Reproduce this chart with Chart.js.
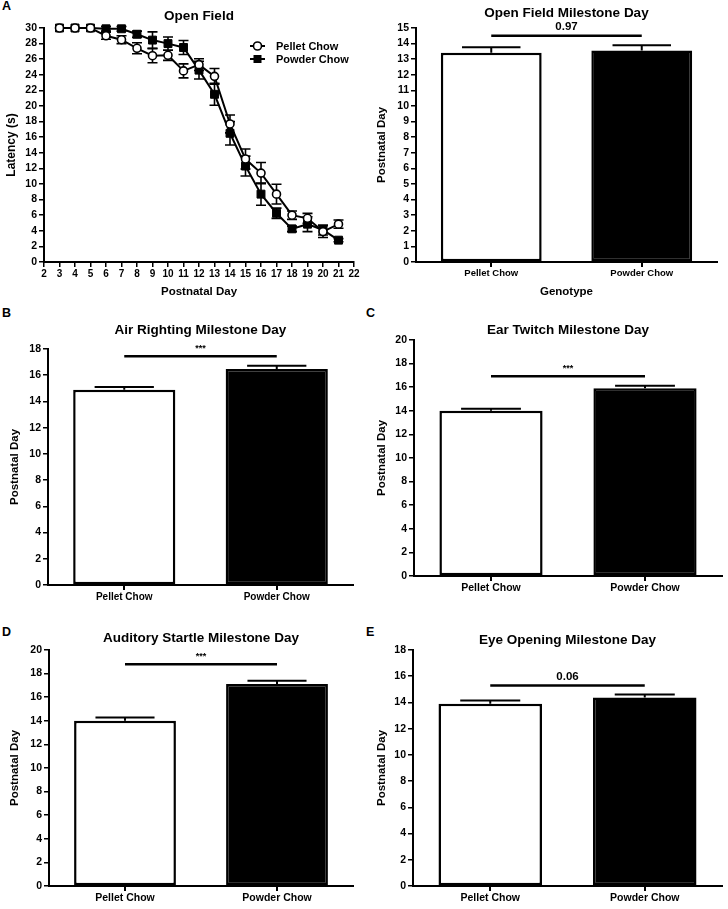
<!DOCTYPE html>
<html><head><meta charset="utf-8">
<script src="https://cdn.jsdelivr.net/npm/chart.js@4.4.0/dist/chart.umd.min.js"></script>
<style>
body{margin:0;background:#fff;width:728px;height:909px;position:relative;overflow:hidden;font-family:'Liberation Sans',Arial,sans-serif;}
.p{position:absolute;}
.lbl{position:absolute;font-weight:bold;font-size:12.5px;line-height:1;color:#000;}
</style></head><body>
<div class="lbl" style="left:2px;top:0px">A</div>
<div class="lbl" style="left:2px;top:306.5px">B</div>
<div class="lbl" style="left:366px;top:306.5px">C</div>
<div class="lbl" style="left:2px;top:625.5px">D</div>
<div class="lbl" style="left:366px;top:625.5px">E</div>
<canvas class="p" id="cA" width="364" height="305" style="left:0;top:0"></canvas>
<canvas class="p" id="cF" width="364" height="305" style="left:364px;top:0"></canvas>
<canvas class="p" id="cB" width="364" height="305" style="left:0;top:305px"></canvas>
<canvas class="p" id="cC" width="364" height="305" style="left:364px;top:305px"></canvas>
<canvas class="p" id="cD" width="364" height="299" style="left:0;top:610px"></canvas>
<canvas class="p" id="cE" width="364" height="299" style="left:364px;top:610px"></canvas>
<script>
// ---------- DATA ----------
const days = [3,4,5,6,7,8,9,10,11,12,13,14,15,16,17,18,19,20,21];
const pelletLatency    = [30,30,30,29.0,28.5,27.4,26.45,26.5,24.5,25.3,23.8,17.7,13.2,11.4,8.7,6.0,5.6,3.9,4.85];
const pelletLatencySEM = [0,0,0,0.45,0.5,0.7,0.9,0.65,0.9,0.75,1.0,1.15,1.28,1.35,1.26,0.53,0.64,0.75,0.53];
const powderLatency    = [30,30,30,29.9,29.9,29.2,28.45,28.0,27.5,24.6,21.5,16.5,12.3,8.7,6.25,4.25,4.85,4.1,2.8];
const powderLatencySEM = [0,0,0,0.3,0.3,0.4,1.05,0.85,0.9,1.13,1.4,1.5,1.28,1.43,0.66,0.35,0.96,0.64,0.2];
const seriesNames = ['Pellet Chow','Powder Chow'];

const groups = ['Pellet Chow','Powder Chow'];
const openFieldDay      = [13.42, 13.55];
const openFieldDaySEM   = [0.35, 0.35];
const airRightingDay    = [14.9, 16.47];
const airRightingDaySEM = [0.2, 0.26];
const earTwitchDay      = [14.0, 15.92];
const earTwitchDaySEM   = [0.18, 0.2];
const startleDay        = [14.0, 17.12];
const startleDaySEM     = [0.27, 0.28];
const eyeOpeningDay     = [13.9, 14.37];
const eyeOpeningDaySEM  = [0.24, 0.23];
const sigLabels = ['0.97','***','***','***','0.06'];
const sigLevels = [14.5, 17.44, 16.92, 18.8, 15.3];

// ---------- STYLE ----------
const FF = "'Liberation Sans', Arial, sans-serif";
Chart.defaults.font.family = FF;
Chart.defaults.color = '#000';
const bold = (s)=>({family:FF, weight:'bold', size:s, lineHeight:1.2});

function yAxis(min,max,step,title,width,titlePad,titleSize){
  return {
    min:min, max:max,
    ticks:{stepSize:step, color:'#000', font:bold(10.5), padding:2},
    grid:{drawOnChartArea:false, drawTicks:true, tickLength:5, color:'#000', lineWidth:1.5},
    border:{display:true, color:'#000', width:2},
    title:{display:true, text:title, color:'#000', font:bold(titleSize||11.5), padding:{top:titlePad,bottom:0}},
    afterFit(s){ s.width = width; }
  };
}

// ---------- LINE CHART PLUGIN ----------
const lineExtras = {
  id:'lineExtras',
  beforeDatasetsDraw(chart, args, opts){
    const {ctx, scales:{y}} = chart;
    ctx.save();
    ctx.strokeStyle = '#000'; ctx.lineWidth = 1.6;
    opts.sems.forEach((sem, di)=>{
      const meta = chart.getDatasetMeta(di);
      const vals = opts.vals[di];
      meta.data.forEach((pt, j)=>{
        if(!sem[j]) return;
        const yt = y.getPixelForValue(vals[j]+sem[j]);
        const yb = y.getPixelForValue(vals[j]-sem[j]);
        ctx.beginPath();
        ctx.moveTo(pt.x, yt); ctx.lineTo(pt.x, yb);
        ctx.moveTo(pt.x-5, yt); ctx.lineTo(pt.x+5, yt);
        ctx.moveTo(pt.x-5, yb); ctx.lineTo(pt.x+5, yb);
        ctx.stroke();
      });
    });
    ctx.restore();
  },
  afterDraw(chart, args, opts){
    const {ctx, chartArea} = chart;
    ctx.save();
    const x0 = chartArea.right - 104;
    chart.data.datasets.forEach((ds, i)=>{
      const yy = chartArea.top + 18 + i*13;
      ctx.strokeStyle = '#000'; ctx.lineWidth = 2;
      ctx.beginPath(); ctx.moveTo(x0, yy); ctx.lineTo(x0+15, yy); ctx.stroke();
      const cx = x0+7.5;
      if(ds.pointStyle === 'rect'){
        ctx.fillStyle = '#000'; ctx.fillRect(cx-4, yy-4, 8, 8);
      } else {
        ctx.fillStyle = '#fff'; ctx.lineWidth = 1.6;
        ctx.beginPath(); ctx.arc(cx, yy, 4, 0, Math.PI*2); ctx.fill(); ctx.stroke();
      }
      ctx.fillStyle = '#000';
      ctx.font = "bold 11px " + FF;
      ctx.textAlign = 'left'; ctx.textBaseline = 'middle';
      ctx.fillText(ds.label, x0+26, yy+0.5);
    });
    ctx.restore();
  }
};

new Chart(document.getElementById('cA'), {
  type:'line',
  data:{
    datasets:[
      {label:seriesNames[0], data:days.map((d,i)=>({x:d,y:pelletLatency[i]})),
       borderColor:'#000', borderWidth:2, pointStyle:'circle', pointRadius:4,
       pointBackgroundColor:'#fff', pointBorderColor:'#000', pointBorderWidth:1.6, tension:0, clip:false},
      {label:seriesNames[1], data:days.map((d,i)=>({x:d,y:powderLatency[i]})),
       borderColor:'#000', borderWidth:2, pointStyle:'rect', pointRadius:5.6,
       pointBackgroundColor:'#000', pointBorderColor:'#000', pointBorderWidth:1, tension:0, clip:false}
    ]
  },
  options:{
    responsive:false, animation:false, events:[],
    layout:{padding:{left:0,right:10,top:0,bottom:0}},
    plugins:{
      legend:{display:false}, tooltip:{enabled:false},
      title:{display:true, fullSize:false, text:'Open Field', color:'#000', font:bold(13.5), padding:{top:8.6,bottom:3.2}},
      lineExtras:{vals:[pelletLatency, powderLatency], sems:[pelletLatencySEM, powderLatencySEM]}
    },
    scales:{
      x:{type:'linear', min:2, max:22,
         ticks:{stepSize:1, color:'#000', font:bold(10), padding:1, maxRotation:0, autoSkip:false},
         grid:{drawOnChartArea:false, drawTicks:true, tickLength:5, color:'#000', lineWidth:1.5},
         border:{display:true, color:'#000', width:2},
         title:{display:true, text:'Postnatal Day', color:'#000', font:bold(11.5), padding:{top:0,bottom:6}},
         afterFit(s){ s.height = 43; }},
      y:yAxis(0,30,2,'Latency (s)',44,4.8,12)
    }
  },
  plugins:[lineExtras]
});

// ---------- BAR CHART PLUGIN ----------
const barExtras = {
  id:'barExtras',
  afterDatasetsDraw(chart, args, opts){
    const {ctx, scales:{y}} = chart;
    const meta = chart.getDatasetMeta(0);
    ctx.save();
    ctx.strokeStyle = '#000'; ctx.lineWidth = 2;
    meta.data.forEach((bar, i)=>{
      const v = opts.means[i], e = opts.sem[i];
      const y0 = y.getPixelForValue(v), y1 = y.getPixelForValue(v+e);
      const hw = bar.width*0.29;
      ctx.beginPath();
      ctx.moveTo(bar.x, y0); ctx.lineTo(bar.x, y1);
      ctx.moveTo(bar.x-hw, y1); ctx.lineTo(bar.x+hw, y1);
      ctx.stroke();
    });
    const ys = y.getPixelForValue(opts.sigY);
    ctx.lineWidth = 2.5;
    ctx.beginPath(); ctx.moveTo(meta.data[0].x, ys); ctx.lineTo(meta.data[1].x, ys); ctx.stroke();
    ctx.fillStyle = '#000';
    ctx.font = 'bold ' + (opts.label === '***' ? 9 : 11.5) + 'px ' + FF;
    ctx.textAlign = 'center'; ctx.textBaseline = 'middle';
    ctx.fillText(opts.label, (meta.data[0].x + meta.data[1].x)/2, ys - (opts.label === '***' ? 7.5 : 9));
    ctx.restore();
  }
};

function barChart(id, cfg){
  const xs = {
    ticks:{color:'#000', font:bold(cfg.catSize), padding:1},
    grid:{offset:false, drawOnChartArea:false, drawTicks:true, tickLength:5, color:'#000', lineWidth:2},
    border:{display:true, color:'#000', width:2},
    afterFit(s){ s.height = cfg.xh; }
  };
  if(cfg.xTitle){
    xs.title = {display:true, text:cfg.xTitle, color:'#000', font:bold(11.5), padding:{top:0,bottom:6}};
  }
  new Chart(document.getElementById(id), {
    type:'bar',
    data:{labels:groups, datasets:[{data:cfg.means, backgroundColor:['#fff','#000'], borderColor:'#000',
      borderWidth:2.5, borderSkipped:false, barPercentage:0.67, categoryPercentage:1}]},
    options:{
      responsive:false, animation:false, events:[],
      layout:{padding:{left:0,right:cfg.pr,top:0,bottom:0}},
      plugins:{
        legend:{display:false}, tooltip:{enabled:false},
        title:{display:true, fullSize:false, text:cfg.title, color:'#000', font:bold(13.5), padding:{top:cfg.pt,bottom:cfg.pb}},
        barExtras:{means:cfg.means, sem:cfg.sem, sigY:cfg.sigY, label:cfg.sig}
      },
      scales:{ x:xs, y:yAxis(0, cfg.max, cfg.step, 'Postnatal Day', cfg.yw, cfg.ytp) }
    },
    plugins:[barExtras]
  });
}

barChart('cF', {title:'Open Field Milestone Day', means:openFieldDay, sem:openFieldDaySEM, sigY:sigLevels[0], sig:sigLabels[0],
  max:15, step:1, yw:52, ytp:11.1, pr:11, pt:5.2, pb:6.6, xh:43, catSize:9.5, xTitle:'Genotype'});
barChart('cB', {title:'Air Righting Milestone Day', means:airRightingDay, sem:airRightingDaySEM, sigY:sigLevels[1], sig:sigLabels[1],
  max:18, step:2, yw:48, ytp:8.1, pr:11, pt:17.4, pb:10.4, xh:25, catSize:10});
barChart('cC', {title:'Ear Twitch Milestone Day', means:earTwitchDay, sem:earTwitchDaySEM, sigY:sigLevels[2], sig:sigLabels[2],
  max:20, step:2, yw:50, ytp:11.1, pr:6, pt:17.4, pb:1.4, xh:34, catSize:10.5});
barChart('cD', {title:'Auditory Startle Milestone Day', means:startleDay, sem:startleDaySEM, sigY:sigLevels[3], sig:sigLabels[3],
  max:20, step:2, yw:49, ytp:8.1, pr:11, pt:20.6, pb:3.2, xh:23, catSize:10.5});
barChart('cE', {title:'Eye Opening Milestone Day', means:eyeOpeningDay, sem:eyeOpeningDaySEM, sigY:sigLevels[4], sig:sigLabels[4],
  max:18, step:2, yw:49, ytp:11.1, pr:6, pt:21.9, pb:1.9, xh:23, catSize:10.5});
</script>
</body></html>
